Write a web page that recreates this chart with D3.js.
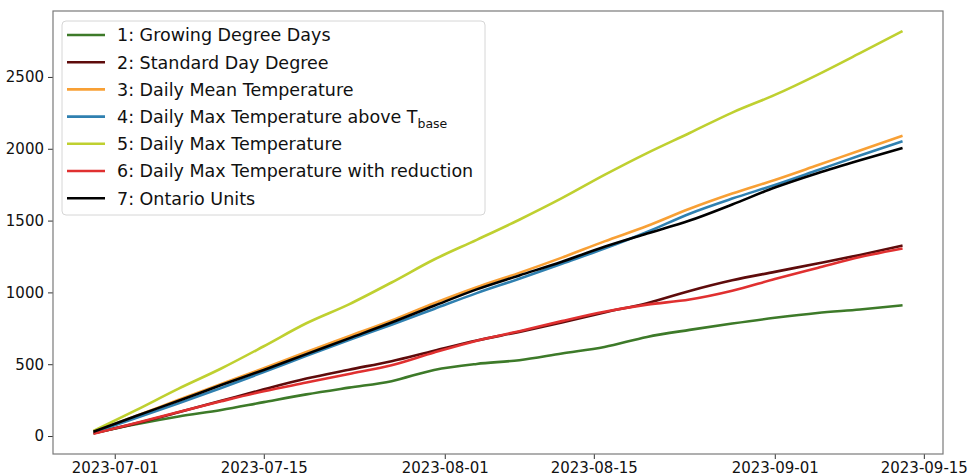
<!DOCTYPE html>
<html>
<head>
<meta charset="utf-8">
<script src="https://cdn.jsdelivr.net/npm/d3@7"></script>
<style>
	html, body { margin: 0; padding: 0; background: #fff; }
	svg { display: block; font-family: "DejaVu Sans", sans-serif; }
</style>
</head>
<body>
<svg id="chart" width="979" height="476"></svg>
<script>
// sampled every 4 days, 2023-06-29 .. 2023-09-13
const dates = ["2023-06-29", "2023-07-03", "2023-07-07", "2023-07-11", "2023-07-15",
	"2023-07-19", "2023-07-23", "2023-07-27", "2023-07-31", "2023-08-04",
	"2023-08-08", "2023-08-12", "2023-08-16", "2023-08-20", "2023-08-24",
	"2023-08-28", "2023-09-01", "2023-09-05", "2023-09-09", "2023-09-13"];

const growingDegreeDays = [20, 82, 136, 181, 236, 290, 337, 382, 460, 502, 528, 575, 620, 690, 739, 783, 823, 857, 881, 910];
const standardDayDegree = [20, 88, 165, 245, 325, 400, 462, 521, 594, 665, 725, 790, 860, 925, 1010, 1084, 1143, 1201, 1261, 1326];
const dailyMeanTemp = [30, 140, 252, 362, 472, 585, 695, 805, 925, 1036, 1136, 1242, 1355, 1462, 1582, 1688, 1783, 1885, 1988, 2090];
const dailyMaxAboveBase = [25, 125, 228, 335, 445, 558, 668, 775, 885, 995, 1095, 1200, 1305, 1420, 1548, 1653, 1748, 1850, 1953, 2052];
const dailyMaxTemp = [35, 180, 330, 470, 625, 785, 917, 1069, 1229, 1366, 1506, 1656, 1818, 1970, 2110, 2252, 2375, 2515, 2666, 2819];
const dailyMaxReduction = [15, 90, 168, 242, 312, 372, 432, 493, 582, 664, 730, 800, 865, 915, 950, 1011, 1093, 1170, 1246, 1306];
const ontarioUnits = [30, 140, 245, 355, 460, 570, 680, 790, 907, 1021, 1118, 1214, 1318, 1410, 1500, 1612, 1730, 1830, 1920, 2005];

const xTicks = ["2023-07-01", "2023-07-15", "2023-08-01", "2023-08-15", "2023-09-01", "2023-09-15"];
const yTicks = [0, 500, 1000, 1500, 2000, 2500];

const series = [
	{ label: "1: Growing Degree Days", values: growingDegreeDays, color: "#3d7a29" },
	{ label: "2: Standard Day Degree", values: standardDayDegree, color: "#5e0b0b" },
	{ label: "3: Daily Mean Temperature", values: dailyMeanTemp, color: "#f8a035" },
	{ label: "4: Daily Max Temperature above T", sub: "base", values: dailyMaxAboveBase, color: "#2f80b0" },
	{ label: "5: Daily Max Temperature", values: dailyMaxTemp, color: "#bfd030" },
	{ label: "6: Daily Max Temperature with reduction", values: dailyMaxReduction, color: "#e03030" },
	{ label: "7: Ontario Units", values: ontarioUnits, color: "#000000" }
];

const svg = d3.select("#chart");
const plot = { left: 53, right: 943, top: 11, bottom: 454 };

const parse = d3.utcParse("%Y-%m-%d");
const times = dates.map(parse);

// matplotlib style 5% margins
let tExt = d3.extent(times);
let tPad = (tExt[1] - tExt[0]) * 0.05;
let x = d3.scaleUtc()
	.domain([new Date(+tExt[0] - tPad), new Date(+tExt[1] + tPad)])
	.range([plot.left, plot.right]);

let allVals = series.flatMap(s => s.values);
let yMin = d3.min(allVals), yMax = d3.max(allVals);
let yPad = (yMax - yMin) * 0.05;
let y = d3.scaleLinear()
	.domain([yMin - yPad, yMax + yPad])
	.range([plot.bottom, plot.top]);

/* ------------------------ axes ----------------------- */

let xAxis = svg.append("g")
	.attr("transform", "translate(0," + plot.bottom + ")")
	.call(d3.axisBottom(x)
		.tickValues(xTicks.map(parse))
		.tickFormat(d3.utcFormat("%Y-%m-%d"))
		.tickSizeOuter(0)
		.tickSize(5)
		.tickPadding(3));

let yAxis = svg.append("g")
	.attr("transform", "translate(" + plot.left + ",0)")
	.call(d3.axisLeft(y)
		.tickValues(yTicks)
		.tickFormat(d3.format("d"))
		.tickSizeOuter(0)
		.tickSize(5)
		.tickPadding(4));

[xAxis, yAxis].forEach(g => {
	g.select(".domain").remove();
	g.selectAll(".tick line").attr("stroke", "#333").attr("stroke-width", 1);
	g.selectAll(".tick text")
		.attr("fill", "#111")
		.style("font-family", "'DejaVu Sans', sans-serif")
		.style("font-size", "15px");
});

/* ------------------------ lines ---------------------- */

let line = d3.line()
	.x((d, i) => x(times[i]))
	.y(d => y(d))
	.curve(d3.curveMonotoneX);

svg.append("g")
	.selectAll("path")
	.data(series)
	.enter().append("path")
	.attr("d", s => line(s.values))
	.attr("fill", "none")
	.attr("stroke", s => s.color)
	.attr("stroke-width", 2.6)
	.attr("stroke-linejoin", "round")
	.attr("stroke-linecap", "butt");

// frame
svg.append("rect")
	.attr("x", plot.left).attr("y", plot.top)
	.attr("width", plot.right - plot.left).attr("height", plot.bottom - plot.top)
	.attr("fill", "none")
	.attr("stroke", "#7a7a7a")
	.attr("stroke-width", 1.2);

/* ------------------------ legend --------------------- */

let legend = svg.append("g");
legend.append("rect")
	.attr("x", 62).attr("y", 21)
	.attr("width", 423).attr("height", 194)
	.attr("rx", 4)
	.attr("fill", "#fff").attr("fill-opacity", 0.8)
	.attr("stroke", "#d6d6d6");

let rows = legend.selectAll(".row")
	.data(series)
	.enter().append("g")
	.attr("class", "row")
	.attr("transform", (s, i) => "translate(0," + (35 + i * 27.2) + ")");

rows.append("line")
	.attr("x1", 67).attr("x2", 105)
	.attr("stroke", s => s.color)
	.attr("stroke-width", 2.6);

let texts = rows.append("text")
	.attr("x", 117)
	.attr("dy", "0.36em")
	.attr("fill", "#111")
	.style("font-size", "17.5px")
	.text(s => s.label);

texts.filter(s => s.sub)
	.append("tspan")
	.attr("dy", 5)
	.style("font-size", "12.5px")
	.text(s => s.sub);
</script>
</body>
</html>
